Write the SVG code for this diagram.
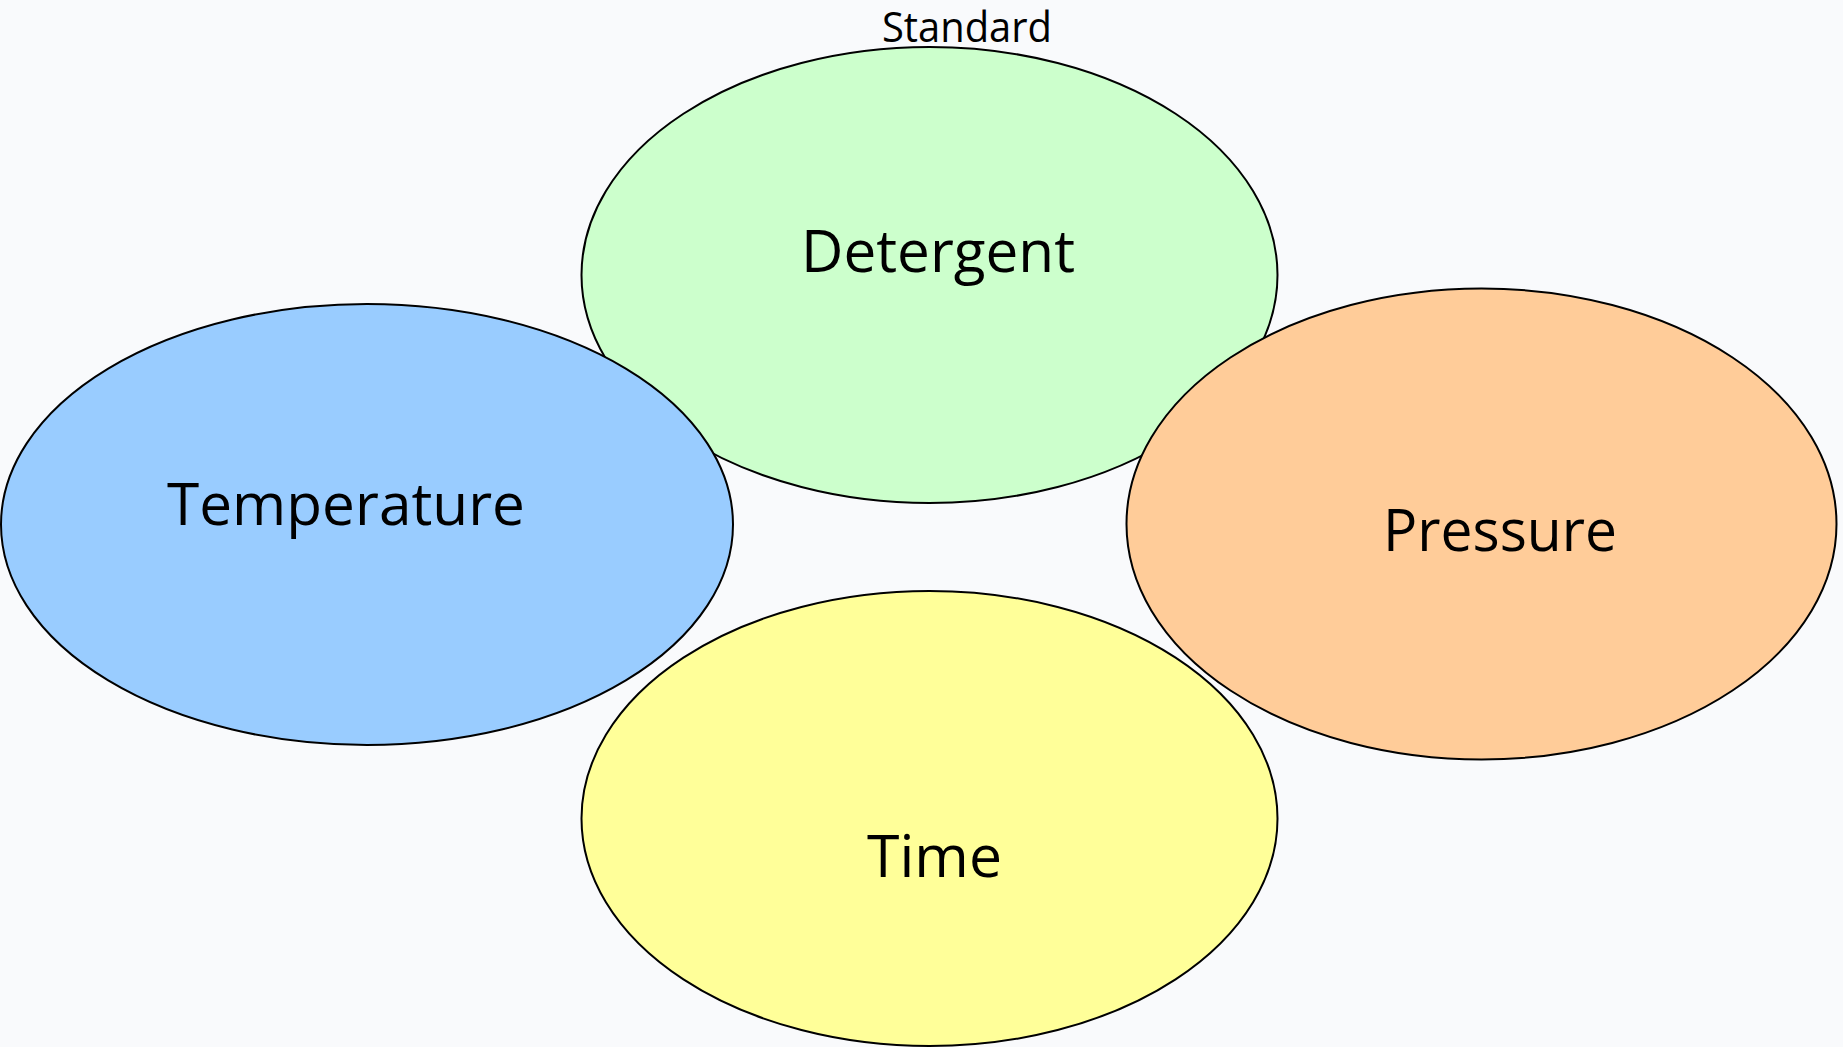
<svg xmlns="http://www.w3.org/2000/svg" width="1843" height="1047" viewBox="0 0 1843 1047">
<style>
.bubble{stroke:#000;stroke-width:2}
.lbl{font-family:"Open Sans","Liberation Sans",sans-serif;fill:#000;text-anchor:middle}
.big{font-size:58px}
.small{font-size:42px}
</style>
<rect x="0" y="0" width="1843" height="1047" fill="#F9FAFC"/>
<g id="node-detergent">
<ellipse class="bubble" cx="929.5" cy="275" rx="348" ry="228" fill="#CCFFCC"/>
<text class="lbl big" x="938" y="272" textLength="274" lengthAdjust="spacingAndGlyphs">Detergent</text>
</g>
<g id="node-temperature">
<ellipse class="bubble" cx="367" cy="524.5" rx="366" ry="220.5" fill="#99CCFF"/>
<text class="lbl big" x="346" y="525" textLength="358" lengthAdjust="spacingAndGlyphs">Temperature</text>
</g>
<g id="node-pressure">
<ellipse class="bubble" cx="1481.5" cy="524" rx="355" ry="235.5" fill="#FFCC99"/>
<text class="lbl big" x="1500" y="551" textLength="234" lengthAdjust="spacingAndGlyphs">Pressure</text>
</g>
<g id="node-time">
<ellipse class="bubble" cx="929.5" cy="818.5" rx="348" ry="227.5" fill="#FFFF99"/>
<text class="lbl big" x="934.5" y="877" textLength="135" lengthAdjust="spacingAndGlyphs">Time</text>
</g>
<g id="title">
<text class="lbl small" x="967" y="42" textLength="170" lengthAdjust="spacingAndGlyphs">Standard</text>
</g>
<g id="connectors"></g>
</svg>
